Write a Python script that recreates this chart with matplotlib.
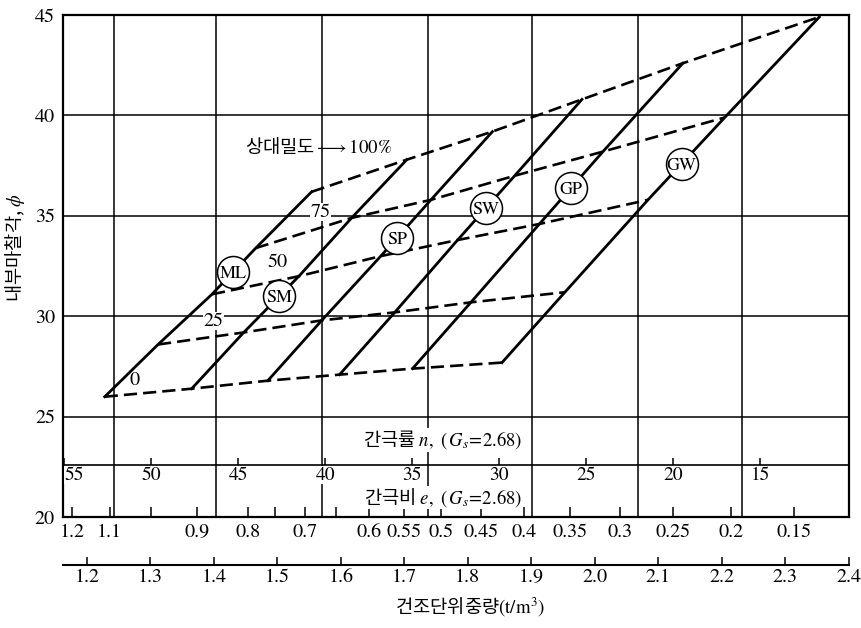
import numpy as np
import matplotlib.pyplot as plt

# phi vs dry unit weight for each soil, points at relative density 0/25/50/75/100 %
soils = ['ML', 'SM', 'SP', 'SW', 'GP', 'GW']
rel_density = [0, 25, 50, 75, 100]

gamma_ML = [1.228, 1.312, 1.397, 1.466, 1.554]
phi_ML = [26.0, 28.6, 31.1, 33.4, 36.2]
gamma_SM = [1.365, 1.447, 1.534, 1.617, 1.704]
phi_SM = [26.4, 29.2, 32.0, 34.9, 37.8]
gamma_SP = [1.485, 1.570, 1.663, 1.742, 1.839]
phi_SP = [26.8, 29.8, 33.0, 35.8, 39.2]
gamma_SW = [1.598, 1.685, 1.784, 1.874, 1.980]
phi_SW = [27.1, 30.2, 33.8, 37.0, 40.8]
gamma_GP = [1.713, 1.805, 1.913, 2.013, 2.139]
phi_GP = [27.4, 30.7, 34.6, 38.2, 42.6]
gamma_GW = [1.854, 1.953, 2.084, 2.205, 2.354]
phi_GW = [27.7, 31.2, 35.8, 39.9, 44.9]

# phi where the soil name circle sits on each line
label_phi = [32.2, 31.0, 33.9, 35.4, 36.4, 37.6]

# scales
dry_ticks = [1.2, 1.3, 1.4, 1.5, 1.6, 1.7, 1.8, 1.9, 2.0, 2.1, 2.2, 2.3, 2.4]
void_ticks = [1.2, 1.1, 1.0, 0.9, 0.8, 0.75, 0.7, 0.65, 0.6, 0.55, 0.5,
              0.45, 0.4, 0.35, 0.3, 0.25, 0.2, 0.15]
void_labels = ['1.2', '1.1', '', '0.9', '0.8', '', '0.7', '', '0.6', '0.55', '0.5',
               '0.45', '0.4', '0.35', '0.3', '0.25', '0.2', '0.15']
porosity_ticks = [55, 50, 45, 40, 35, 30, 25, 20, 15]
grid_gamma = [1.243, 1.404, 1.570, 1.738, 1.902, 2.069, 2.232]
phi_ticks = [20, 25, 30, 35, 40, 45]
porosity_line = 22.6


# e and n scales as drawn on the chart: gamma = k/(1+e) + c
def e_to_gamma(e):
    return 2.743 / (1 + np.asarray(e)) - 0.0704


def n_to_gamma(n):
    return 2.743 * (1 - np.asarray(n) / 100) - 0.0704


plt.rcParams['font.family'] = ['STIXGeneral', 'Noto Sans CJK KR']
plt.rcParams['mathtext.fontset'] = 'stix'
kr = 'Noto Sans CJK KR'

gammas = [gamma_ML, gamma_SM, gamma_SP, gamma_SW, gamma_GP, gamma_GW]
phis = [phi_ML, phi_SM, phi_SP, phi_SW, phi_GP, phi_GW]

fig = plt.figure(figsize=(8.61, 6.28), dpi=100)
ax = fig.add_axes([0.0735, 0.1763, 0.912, 0.7998])
ax.set_xlim(1.1627, 2.4)
ax.set_ylim(20, 45)

for s in ax.spines.values():
    s.set_linewidth(1.6)

# grid
ax.set_yticks(phi_ticks)
ax.grid(axis='y', color='k', lw=1.1)
ax.vlines(grid_gamma, 20, 45, color='k', lw=1.1, zorder=1)
ax.tick_params(axis='y', length=0, pad=6, labelsize=14.5)

# void ratio scale on the bottom spine
ax.set_xticks(e_to_gamma(void_ticks), labels=void_labels)
ax.tick_params(axis='x', direction='in', length=7, width=1.1, pad=5, labelsize=14.5)

# porosity scale
ax.axhline(porosity_line, color='k', lw=1.2, zorder=1)
ax.vlines(n_to_gamma(porosity_ticks), porosity_line, porosity_line + 0.33,
          color='k', lw=1.1, zorder=1)
for i, n in enumerate(porosity_ticks):
    ax.text(n_to_gamma(n), 22.1, str(n), ha='left' if i == 0 else 'center',
            va='center', fontsize=14, zorder=3,
            bbox=dict(facecolor='white', edgecolor='none', pad=0.3))

ax.text(1.761, 23.85, r'간극률 $n,\ (\,G_s\!=\!2.68)$', family=kr, fontsize=13.5,
        ha='center', va='center', zorder=3,
        bbox=dict(facecolor='white', edgecolor='none', pad=0.3))
ax.text(1.761, 20.98, r'간극비 $e,\ (\,G_s\!=\!2.68)$', family=kr, fontsize=13.5,
        ha='center', va='center', zorder=3,
        bbox=dict(facecolor='white', edgecolor='none', pad=0.3))

# soil lines (solid) and equal relative density lines (dashed)
for g, p in zip(gammas, phis):
    ax.plot(g, p, color='k', lw=2.0, zorder=4)
for i in range(len(rel_density)):
    ax.plot([g[i] for g in gammas], [p[i] for p in phis], color='k', lw=1.9,
            linestyle=(0, (5, 2.3)), zorder=4)

# relative density labels
ax.text(1.2756, 26.83, '0', ha='center', va='center', fontsize=14.5, zorder=6)
ax.text(1.400, 29.77, '25', ha='center', va='center', fontsize=14.5, zorder=6,
        bbox=dict(facecolor='white', edgecolor='none', pad=0.5))
ax.text(1.501, 32.68, '50', ha='center', va='center', fontsize=14.5, zorder=6)
ax.text(1.5685, 35.19, '75', ha='center', va='center', fontsize=14.5, zorder=6,
        bbox=dict(facecolor='white', edgecolor='none', pad=0.5))
ax.text(1.5646, 38.43, r'상대밀도$\longrightarrow\mathrm{100\%}$', family=kr,
        fontsize=13.5, ha='center', va='center', zorder=6)

# soil circles
for name, g, p, lp in zip(soils, gammas, phis, label_phi):
    lg = np.interp(lp, p, g)
    ax.scatter([lg], [lp], s=530, facecolor='white', edgecolor='k',
               linewidths=1.1, zorder=5)
    ax.text(lg, lp, name, ha='center', va='center_baseline', fontsize=13, zorder=6)

ax.set_ylabel(r'내부마찰각, $\phi$', family=kr, fontsize=13.5)
ax.yaxis.set_label_coords(-0.046, 0.536)

# dry unit weight axis below
sec = ax.secondary_xaxis(-0.095)
sec.set_xticks(dry_ticks, labels=[f'{t:.1f}' for t in dry_ticks])
sec.tick_params(direction='in', length=6, width=1.1, pad=3, labelsize=14.5)
sec.spines['bottom'].set_linewidth(1.5)
sec.set_xlabel(r'건조단위중량$(\mathrm{t/m^3})$', family=kr, fontsize=13.5,
               labelpad=7, x=0.518)

fig.savefig('out.png', dpi=100)
